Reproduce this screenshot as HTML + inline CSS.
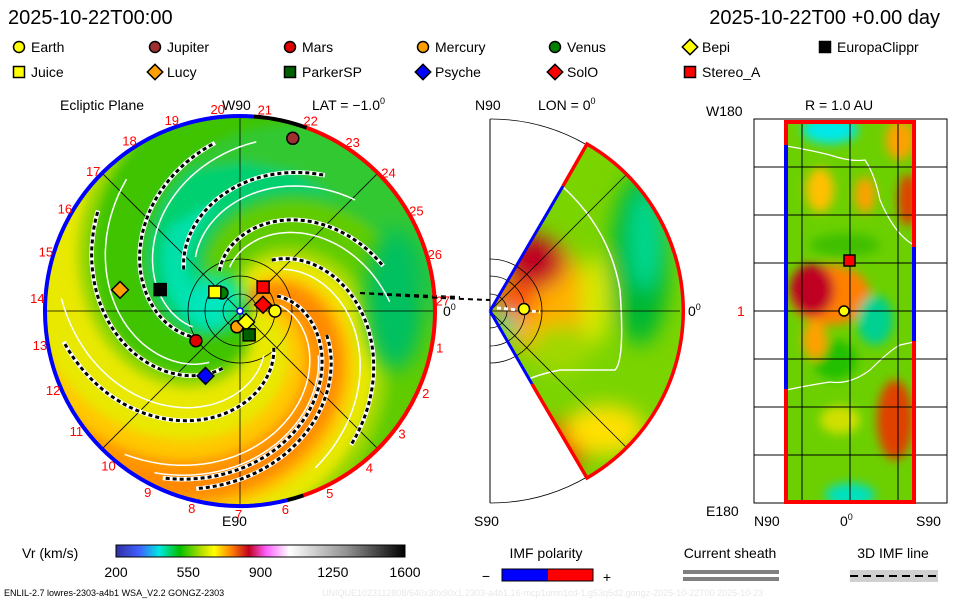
<!DOCTYPE html>
<html><head><meta charset="utf-8"><style>
body{margin:0;background:#fff;width:960px;height:600px;overflow:hidden;font-family:"Liberation Sans",sans-serif}
svg text{font-family:"Liberation Sans",sans-serif}
</style></head><body>
<svg id="s" width="960" height="600" viewBox="0 0 960 600" xmlns="http://www.w3.org/2000/svg">
<defs>
<clipPath id="eclip"><circle cx="240" cy="311" r="194"/></clipPath>
<clipPath id="wclip"><path d="M490,311 L587,144 A193,193 0 0 1 587,478 Z"/></clipPath>
<clipPath id="rclip"><rect x="786" y="122" width="128" height="380"/></clipPath>
<filter id="bl" x="-50%" y="-50%" width="200%" height="200%"><feGaussianBlur stdDeviation="10"/></filter>
<filter id="bl2" x="-50%" y="-50%" width="200%" height="200%"><feGaussianBlur stdDeviation="5"/></filter>
<linearGradient id="cbar" x1="0" x2="1">
<stop offset="0" stop-color="#3030a0"/><stop offset="0.08" stop-color="#4060ff"/><stop offset="0.15" stop-color="#00e8e0"/><stop offset="0.22" stop-color="#00c000"/><stop offset="0.3" stop-color="#c0e000"/><stop offset="0.34" stop-color="#ffff00"/><stop offset="0.4" stop-color="#ff8000"/><stop offset="0.46" stop-color="#c00020"/><stop offset="0.52" stop-color="#ff60ff"/><stop offset="0.6" stop-color="#ffffff"/><stop offset="0.8" stop-color="#909090"/><stop offset="1" stop-color="#000"/>
</linearGradient>
</defs>
<g id="titles">
<text x="8" y="24" font-size="20">2025-10-22T00:00</text>
<text x="940" y="24" font-size="20" text-anchor="end">2025-10-22T00 +0.00 day</text>
</g>
<g id="legend"></g>
<g>
<text x="60" y="110" font-size="14">Ecliptic Plane</text>
<text x="222" y="110" font-size="14">W90</text>
<text x="312" y="110" font-size="14">LAT = −1.0<tspan font-size="9" dy="-6">0</tspan></text>
<text x="222" y="526" font-size="14">E90</text>
<text x="443" y="316" font-size="14">0<tspan font-size="9" dy="-6">0</tspan></text>
<g clip-path="url(#eclip)" id="efield">
<circle cx="240" cy="311" r="194" fill="#40c400"/>
</g>
<g id="egrid" stroke="#000" stroke-width="0.8" fill="none"></g>
<g id="espir"></g>
<g id="ering"></g>
<g id="enums" fill="#ff0000" font-size="13"></g>
<g id="emark"></g>
</g>
<g>
<text x="475" y="110" font-size="14">N90</text>
<text x="538" y="110" font-size="14">LON = 0<tspan font-size="9" dy="-6">0</tspan></text>
<text x="474" y="526" font-size="14">S90</text>
<text x="688" y="316" font-size="14">0<tspan font-size="9" dy="-6">0</tspan></text>
<line x1="490" y1="119" x2="490" y2="503" stroke="#000" stroke-width="1"/>
<path d="M490,119 A192,192 0 0 1 587,145 M587,477 A192,192 0 0 1 490,503" fill="none" stroke="#000" stroke-width="0.8"/>
<g clip-path="url(#wclip)">
<path d="M490,311 L587,144 A193,193 0 0 1 587,478 Z" fill="#7ad400"/>
<g filter="url(#bl)">
<ellipse cx="545" cy="300" rx="40" ry="60" fill="#ffb000"/>
<ellipse cx="535" cy="262" rx="30" ry="26" fill="#c00020"/>
<ellipse cx="515" cy="300" rx="22" ry="18" fill="#ff5000"/>
<ellipse cx="595" cy="300" rx="15" ry="45" fill="#d8e800"/>
<ellipse cx="640" cy="260" rx="30" ry="85" fill="#00b830"/>
<ellipse cx="645" cy="240" rx="16" ry="50" fill="#00d890"/>
<ellipse cx="565" cy="445" rx="22" ry="26" fill="#e03000"/>
<ellipse cx="605" cy="430" rx="40" ry="25" fill="#ffe000"/>
<ellipse cx="560" cy="350" rx="30" ry="25" fill="#a0d800"/>
<ellipse cx="505" cy="322" rx="12" ry="10" fill="#00d8b0"/>
</g>
<path d="M563,187 Q610,230 620,290 Q625,360 615,370 L560,370 Q535,375 520,383" fill="none" stroke="#fff" stroke-width="1.5"/>
<line x1="490" y1="311" x2="680" y2="311" stroke="#000" stroke-width="0.8"/>
<line x1="490" y1="311" x2="626" y2="175" stroke="#000" stroke-width="0.8"/>
<line x1="490" y1="311" x2="626" y2="447" stroke="#000" stroke-width="0.8"/>
</g>
<path d="M490,294 A17,17 0 0 1 490,328 M490,276 A35,35 0 0 1 490,346 M490,259 A52,52 0 0 1 490,363" fill="none" stroke="#000" stroke-width="0.8"/>
<path d="M490,311 L563,186" stroke="#0000ff" stroke-width="3"/>
<path d="M490,311 L532,384" stroke="#0000ff" stroke-width="3"/>
<path d="M563,186 L587,144 A193,193 0 0 1 587,478 L532,384" fill="none" stroke="#ff0000" stroke-width="3.5"/>
<path d="M360,293 Q430,298 490,300" fill="none" stroke="#000" stroke-width="2" stroke-dasharray="5,4"/>
<path d="M497,308 L540,312" stroke="#fff" stroke-width="3" stroke-dasharray="4,3"/>
<circle cx="524" cy="309" r="5.5" fill="#ffff00" stroke="#000" stroke-width="1.5"/>
</g>
<g>
<text x="805" y="110" font-size="14">R = 1.0 AU</text>
<text x="706" y="116" font-size="14">W180</text>
<text x="706" y="516" font-size="14">E180</text>
<text x="754" y="526" font-size="14">N90</text>
<text x="840" y="526" font-size="14">0<tspan font-size="9" dy="-6">0</tspan></text>
<text x="916" y="526" font-size="14">S90</text>
<text x="737" y="316" font-size="14" fill="#ff0000">1</text>
<rect x="754" y="119" width="193" height="384" fill="none" stroke="#000" stroke-width="1"/>
<g clip-path="url(#rclip)">
<rect x="786" y="122" width="128" height="380" fill="#6cd000"/>
<g filter="url(#bl2)">
<ellipse cx="830" cy="130" rx="28" ry="14" fill="#00e8e8"/>
<ellipse cx="900" cy="140" rx="14" ry="20" fill="#ffa000"/>
<ellipse cx="820" cy="190" rx="14" ry="22" fill="#ffc000"/>
<ellipse cx="865" cy="195" rx="10" ry="18" fill="#ffa000"/>
<ellipse cx="908" cy="200" rx="10" ry="26" fill="#e04000"/>
<ellipse cx="845" cy="245" rx="35" ry="12" fill="#40c000"/>
<ellipse cx="830" cy="295" rx="40" ry="30" fill="#ff8000"/>
<ellipse cx="812" cy="290" rx="22" ry="26" fill="#c00020"/>
<ellipse cx="875" cy="320" rx="18" ry="25" fill="#00d090"/>
<ellipse cx="835" cy="360" rx="22" ry="20" fill="#20c000"/>
<ellipse cx="815" cy="340" rx="12" ry="20" fill="#ffa000"/>
<ellipse cx="895" cy="420" rx="18" ry="40" fill="#e04000"/>
<ellipse cx="840" cy="420" rx="20" ry="14" fill="#d0e000"/>
<ellipse cx="850" cy="495" rx="25" ry="12" fill="#00e0c0"/>
</g>
<path d="M786,146 Q810,150 830,155 Q850,162 865,160 Q875,175 880,200 Q895,235 914,245" fill="none" stroke="#fff" stroke-width="1.2"/>
<path d="M786,390 Q810,385 830,382 Q850,385 870,370 Q890,350 900,345 L914,342" fill="none" stroke="#fff" stroke-width="1.2"/>
</g>
<g stroke="#000" stroke-width="1">
<line x1="802" y1="122" x2="802" y2="502"/><line x1="850" y1="122" x2="850" y2="502"/><line x1="898" y1="122" x2="898" y2="502"/>
<line x1="754" y1="167" x2="947" y2="167"/><line x1="754" y1="215" x2="947" y2="215"/><line x1="754" y1="263" x2="947" y2="263"/><line x1="754" y1="311" x2="947" y2="311"/><line x1="754" y1="359" x2="947" y2="359"/><line x1="754" y1="407" x2="947" y2="407"/><line x1="754" y1="455" x2="947" y2="455"/>
</g>
<rect x="786" y="122" width="128" height="380" fill="none" stroke="#ff0000" stroke-width="4"/>
<line x1="786" y1="145" x2="786" y2="389" stroke="#0000ff" stroke-width="4"/>
<line x1="914" y1="247" x2="914" y2="341" stroke="#0000ff" stroke-width="4"/>
<rect x="844" y="255" width="11" height="11" fill="#ff0000" stroke="#000" stroke-width="1.5"/>
<circle cx="844" cy="311" r="5" fill="#ffff00" stroke="#000" stroke-width="1.5"/>
</g>
<g>
<text x="22" y="558" font-size="14">Vr (km/s)</text>
<rect x="116" y="545" width="289" height="12" fill="url(#cbar)" stroke="#000" stroke-width="1"/>
<g id="cbt" font-size="14" text-anchor="middle"></g>
</g>
<text x="546" y="558" font-size="14" text-anchor="middle">IMF polarity</text>
<text x="486" y="581" font-size="14" text-anchor="middle">−</text>
<rect x="502" y="569" width="46" height="12" fill="#0000ff"/>
<rect x="548" y="569" width="45" height="12" fill="#ff0000"/>
<rect x="502" y="569" width="91" height="12" fill="none" stroke="#000"/>
<text x="607" y="582" font-size="14" text-anchor="middle">+</text>
<text x="730" y="558" font-size="14" text-anchor="middle">Current sheath</text>
<rect x="683" y="570" width="96" height="4" fill="#808080"/>
<rect x="683" y="577" width="96" height="4" fill="#808080"/>
<text x="893" y="558" font-size="14" text-anchor="middle">3D IMF line</text>
<rect x="850" y="570" width="88" height="12" fill="#d0d0d0"/>
<line x1="850" y1="576" x2="938" y2="576" stroke="#000" stroke-width="2" stroke-dasharray="8,5"/>
<text x="4" y="596" font-size="9">ENLIL-2.7 lowres-2303-a4b1 WSA_V2.2 GONGZ-2303</text>
<text x="322" y="596" font-size="9" fill="#e8e8e8">UNIQUE1023112808/640x30x90x1.2303-a4b1.16-mcp1umn1cd-1.g53q5d2.gongz-2025-10-22T00   2025-10-23</text>
</svg>
<script>
const NS='http://www.w3.org/2000/svg';
const CX=240, CY=311, R=194, AU=35;
const legendNames=['Earth','Jupiter','Mars','Mercury','Venus','Bepi','EuropaClippr','Juice','Lucy','ParkerSP','Psyche','SolO','Stereo_A'];
const legendShapes=['circle','circle','circle','circle','circle','diamond','square','square','diamond','square','diamond','diamond','square'];
const legendColors=['#ffff00','#a03030','#e00000','#ffa000','#008000','#ffff00','#000000','#ffff00','#ffa000','#006000','#0000ff','#ff0000','#ff0000'];
const bodyR=[1.0,5.16,1.52,0.46,0.73,0.36,2.36,0.9,3.48,0.73,2.1,0.68,0.95];
const bodyLon=[0,73,214,259,135,299,165,143,170,291,242,15,46];
const cbTicks=['200','550','900','1250','1600'];
const cbVals=[200,550,900,1250,1600];
const armPhase=[-60,0,50,100,150,200,245,290];
const armStart=[40,50,60,50,70,45,60,90];
const armEnd=[185,180,175,170,160,150,175,185];

function el(tag,attrs,parent){const e=document.createElementNS(NS,tag);for(const k in attrs)e.setAttribute(k,attrs[k]);parent.appendChild(e);return e;}
function marker(shape,color,x,y,s,parent){
  let e;
  if(shape==='circle') e=el('circle',{cx:x,cy:y,r:s,fill:color,stroke:'#000','stroke-width':1.5},parent);
  else if(shape==='square') e=el('rect',{x:x-s,y:y-s,width:2*s,height:2*s,fill:color,stroke:'#000','stroke-width':1.5},parent);
  else e=el('polygon',{points:`${x},${y-s*1.4} ${x+s*1.4},${y} ${x},${y+s*1.4} ${x-s*1.4},${y}`,fill:color,stroke:'#000','stroke-width':1.5},parent);
  return e;
}
const lg=document.getElementById('legend');
const colX=[12,148,283,416,548,683,818];
legendNames.forEach((n,i)=>{
  const x=colX[i%7]+7, y=i<7?47:72;
  const g=el('g',{},lg);
  
  
  marker(legendShapes[i],legendColors[i],x,y,5.5,g);
  const t=el('text',{x:x+12,y:y+5,'font-size':14},g);t.textContent=n;
});
const K=0.95;
function sp(phase,r){const a=(phase+K*r)*Math.PI/180;return [CX+r*Math.cos(a),CY+r*Math.sin(a)];}
function band(p1,p2,r0,r1){
  let pts=[];for(let r=r0;r<=r1;r+=3)pts.push(sp(p1,r));
  for(let r=r1;r>=r0;r-=3)pts.push(sp(p2,r));
  return pts.map(p=>p.map(v=>v.toFixed(1)).join(',')).join(' ');
}
const ef=document.getElementById('efield');
const bands=[[-130,50,'#9ad800',10,210],[-115,35,'#e8e800',10,210],[-95,-20,'#ffc800',10,210],[-85,-40,'#ff9800',10,210],[-75,-55,'#ff8800',10,200],[100,180,'#30c830',10,210],[110,170,'#00d070',20,150],[125,155,'#00e0a8',20,110],[180,230,'#60cc00',10,210]];
const bf=el('g',{filter:'url(#bl2)'},ef);
bands.forEach(b=>{
  for(let p=b[0];p<b[1];p+=20){
    el('polygon',{points:band(p,Math.min(p+21,b[1]),b[3],b[4]),fill:b[2]},bf);
  }
});
el('ellipse',{cx:215,cy:300,rx:30,ry:26,fill:'#00e8c0',filter:'url(#bl)'},ef);
el('ellipse',{cx:395,cy:300,rx:30,ry:70,fill:'#00c060',filter:'url(#bl)'},ef);
const eg=document.getElementById('egrid');
el('line',{x1:CX-R,y1:CY,x2:CX+R,y2:CY},eg);el('line',{x1:CX,y1:CY-R,x2:CX,y2:CY+R},eg);
const d=R*Math.SQRT1_2;
el('line',{x1:CX-d,y1:CY-d,x2:CX+d,y2:CY+d},eg);el('line',{x1:CX-d,y1:CY+d,x2:CX+d,y2:CY-d},eg);
[17,35,52].forEach(r=>el('circle',{cx:CX,cy:CY,r:r},eg));
const es=document.getElementById('espir');
armPhase.forEach((ph,i)=>{
  let pts=[];for(let r=armStart[i];r<=armEnd[i];r+=3)pts.push(sp(ph,r).map(v=>v.toFixed(1)).join(','));
  const s=pts.join(' ');
  const w=el('polyline',{points:s,fill:'none',stroke:'#fff','stroke-width':4.5},es);
  
  
  el('polyline',{points:s,fill:'none',stroke:'#000','stroke-width':3,'stroke-dasharray':'4,3'},es);
  let pts2=[];for(let r=armStart[i];r<=armEnd[i];r+=3)pts2.push(sp(ph+14,r).map(v=>v.toFixed(1)).join(','));
  el('polyline',{points:pts2.join(' '),fill:'none',stroke:'#fff','stroke-width':1.5},es);
});
el('path',{d:'M360,293 L460,297',stroke:'#000','stroke-width':2,'stroke-dasharray':'5,4',fill:'none'},es);
const er=document.getElementById('ering');
function arc(a0,a1,col){const r=R+1;const p0=[CX+r*Math.cos(a0*Math.PI/180),CY+r*Math.sin(a0*Math.PI/180)],p1=[CX+r*Math.cos(a1*Math.PI/180),CY+r*Math.sin(a1*Math.PI/180)];
 const large=((a1-a0+360)%360)>180?1:0;
 return el('path',{d:`M${p0[0]},${p0[1]} A${r},${r} 0 ${large} 1 ${p1[0]},${p1[1]}`,fill:'none',stroke:col,'stroke-width':4},er);}
const ra=arc(-70,71,'#ff0000');
const rb=arc(103,-86,'#0000ff');
arc(-86,-70,'#000');arc(71,76,'#000');arc(76,103,'#0000ff');
const en=document.getElementById('enums');
for(let n=1;n<=27;n++){const a=(-3-(27-n)*13.33)*Math.PI/180;const r=R+9;
 const t=el('text',{x:(CX+r*Math.cos(a)).toFixed(1),y:(CY+r*Math.sin(a)+5).toFixed(1),'text-anchor':'middle'},en);t.textContent=n;}
const em=document.getElementById('emark');
bodyR.forEach((r,i)=>{const a=bodyLon[i]*Math.PI/180;
 const m=marker(legendShapes[i],legendColors[i],CX+r*AU*Math.cos(a),CY-r*AU*Math.sin(a),6,em);
 
 });
el('circle',{cx:CX,cy:CY,r:3,fill:'#fff',stroke:'#0000ff','stroke-width':1.5},em);
const cb=document.getElementById('cbt');
const cbx=v=>116+(v-200)/(1600-200)*289;
cbTicks.forEach((t,i)=>{const e=el('text',{x:cbx(cbVals[i]).toFixed(1),y:577},cb);e.textContent=t;});
</script>
</body></html>
